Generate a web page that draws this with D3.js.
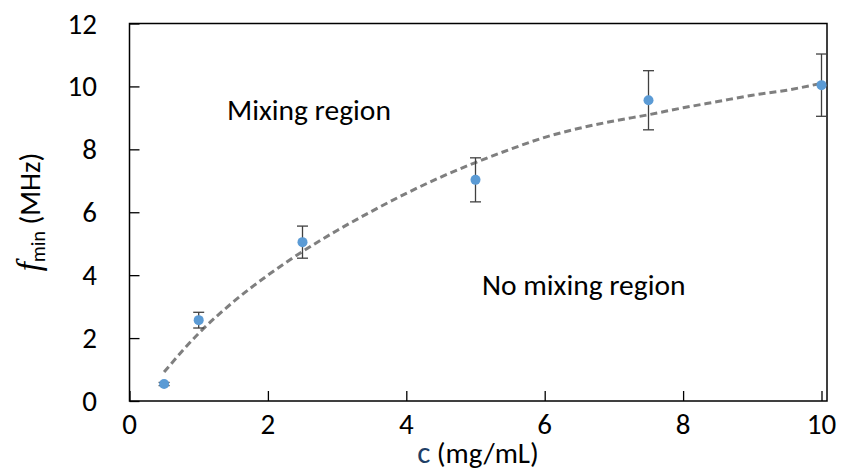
<!DOCTYPE html>
<html>
<head>
<meta charset="utf-8">
<script src="https://cdn.jsdelivr.net/npm/d3@7"></script>
<style>
  body { margin: 0; background: #fff; }
  text { font-family: Carlito, Lato, sans-serif; fill: #000; }
</style>
</head>
<body>
<div id="chart"></div>
<script>
// measured points (c in mg/mL, f_min in MHz) and error bar half widths
var conc = [0.5, 1, 2.5, 5, 7.5, 10];
var fmin = [0.54, 2.57, 5.05, 7.03, 9.56, 10.04];
var fErr = [0.05, 0.25, 0.51, 0.70, 0.94, 0.99];

// dashed trend curve
var fitC = [0.5, 1, 1.5, 2, 2.5, 3, 3.5, 4, 4.5, 5, 5.5, 6, 6.5, 7, 7.5, 8, 8.5, 9, 9.5, 10];
var fitF = [0.92, 2.15, 3.15, 4.0, 4.75, 5.42, 6.03, 6.6, 7.12, 7.58, 8.0, 8.38, 8.67, 8.9, 9.1, 9.32, 9.52, 9.72, 9.88, 10.1];

var xTicks = [0, 2, 4, 6, 8, 10];
var yTicks = [0, 2, 4, 6, 8, 10, 12];

function drawChart() {
  var width = 841, height = 470;
  var m = { left: 129.5, top: 23.5, bottom: 401, right: 821.5, box: 827 };

  var svg = d3.select("#chart").append("svg")
      .attr("width", width)
      .attr("height", height);

  var x = d3.scaleLinear().domain([0, 10]).range([m.left, m.right]);
  var y = d3.scaleLinear().domain([0, 12]).range([m.bottom, m.top]);

  //plot area border
  svg.append("rect")
      .attr("x", m.left)
      .attr("y", m.top)
      .attr("width", m.box - m.left)
      .attr("height", m.bottom - m.top)
      .attr("fill", "none")
      .attr("stroke", "#000")
      .attr("stroke-width", 1.5);

  // axes, ticks pointing inside
  var xAxis = d3.axisTop(x).tickValues(xTicks).tickSize(10).tickFormat("");
  var yAxis = d3.axisRight(y).tickValues(yTicks).tickSize(10).tickFormat("");

  svg.append("g")
      .attr("transform", "translate(0," + m.bottom + ")")
      .call(xAxis)
      .call(function(g) { g.select(".domain").remove(); })
      .selectAll("line").attr("stroke", "#000").attr("stroke-width", 1.3);

  svg.append("g")
      .attr("transform", "translate(" + m.left + ",0)")
      .call(yAxis)
      .call(function(g) { g.select(".domain").remove(); })
      .selectAll("line").attr("stroke", "#000").attr("stroke-width", 1.3);

  // tick labels
  svg.selectAll("text.xt")
      .data(xTicks)
      .enter()
      .append("text")
      .attr("class", "xt")
      .attr("x", function(d) { return x(d); })
      .attr("y", 434)
      .attr("text-anchor", "middle")
      .style("font-size", "29px")
      .text(function(d) { return d; });

  svg.selectAll("text.yt")
      .data(yTicks)
      .enter()
      .append("text")
      .attr("class", "yt")
      .attr("x", 97)
      .attr("y", function(d) { return y(d) + 10; })
      .attr("text-anchor", "end")
      .style("font-size", "29px")
      .text(function(d) { return d; });

  // axis titles
  var xt = svg.append("text")
      .attr("x", 478)
      .attr("y", 463)
      .attr("text-anchor", "middle")
      .style("font-size", "29px");
  xt.append("tspan").attr("fill", "#1f3f66").style("font-size", "31px").text("c");
  xt.append("tspan").text(" (mg/mL)");

  var yt = svg.append("text")
      .attr("transform", "translate(40,212) rotate(-90)")
      .attr("text-anchor", "middle")
      .style("font-size", "29px");
  yt.append("tspan")
      .style("font-family", "'Liberation Serif', serif")
      .style("font-style", "italic")
      .style("font-size", "33px")
      .text("f");
  yt.append("tspan")
      .attr("dy", 5)
      .style("font-size", "20px")
      .text("min");
  yt.append("tspan")
      .attr("dy", -5)
      .text(" (MHz)");

  // region labels
  svg.append("text")
      .attr("x", 227)
      .attr("y", 120)
      .style("font-size", "29.5px")
      .text("Mixing region");

  svg.append("text")
      .attr("x", 482)
      .attr("y", 295)
      .style("font-size", "29.5px")
      .text("No mixing region");

  // trend curve
  var fitData = fitC.map(function(c, i) { return { c: c, f: fitF[i] }; });
  var line = d3.line()
      .x(function(d) { return x(d.c); })
      .y(function(d) { return y(d.f); })
      .curve(d3.curveMonotoneX);

  svg.append("path")
      .datum(fitData)
      .attr("d", line)
      .attr("fill", "none")
      .attr("stroke", "#7f7f7f")
      .attr("stroke-width", 3)
      .attr("stroke-dasharray", "7,4");

  // error bars
  var pts = conc.map(function(c, i) { return { c: c, f: fmin[i], e: fErr[i] }; });
  var eb = svg.append("g").attr("stroke", "#404040").attr("stroke-width", 1.3);
  eb.selectAll("line.v")
      .data(pts)
      .enter()
      .append("line")
      .attr("x1", function(d) { return x(d.c); })
      .attr("x2", function(d) { return x(d.c); })
      .attr("y1", function(d) { return y(d.f + d.e); })
      .attr("y2", function(d) { return y(d.f - d.e); });
  eb.selectAll("line.top")
      .data(pts)
      .enter()
      .append("line")
      .attr("x1", function(d) { return x(d.c) - 5.5; })
      .attr("x2", function(d) { return x(d.c) + 5.5; })
      .attr("y1", function(d) { return y(d.f + d.e); })
      .attr("y2", function(d) { return y(d.f + d.e); });
  eb.selectAll("line.bot")
      .data(pts)
      .enter()
      .append("line")
      .attr("x1", function(d) { return x(d.c) - 5.5; })
      .attr("x2", function(d) { return x(d.c) + 5.5; })
      .attr("y1", function(d) { return y(d.f - d.e); })
      .attr("y2", function(d) { return y(d.f - d.e); });

  // data points
  svg.selectAll("circle.pt")
      .data(pts)
      .enter()
      .append("circle")
      .attr("class", "pt")
      .attr("cx", function(d) { return x(d.c); })
      .attr("cy", function(d) { return y(d.f); })
      .attr("r", 5)
      .attr("fill", "#5b9bd5");
}

drawChart();
</script>
</body>
</html>
